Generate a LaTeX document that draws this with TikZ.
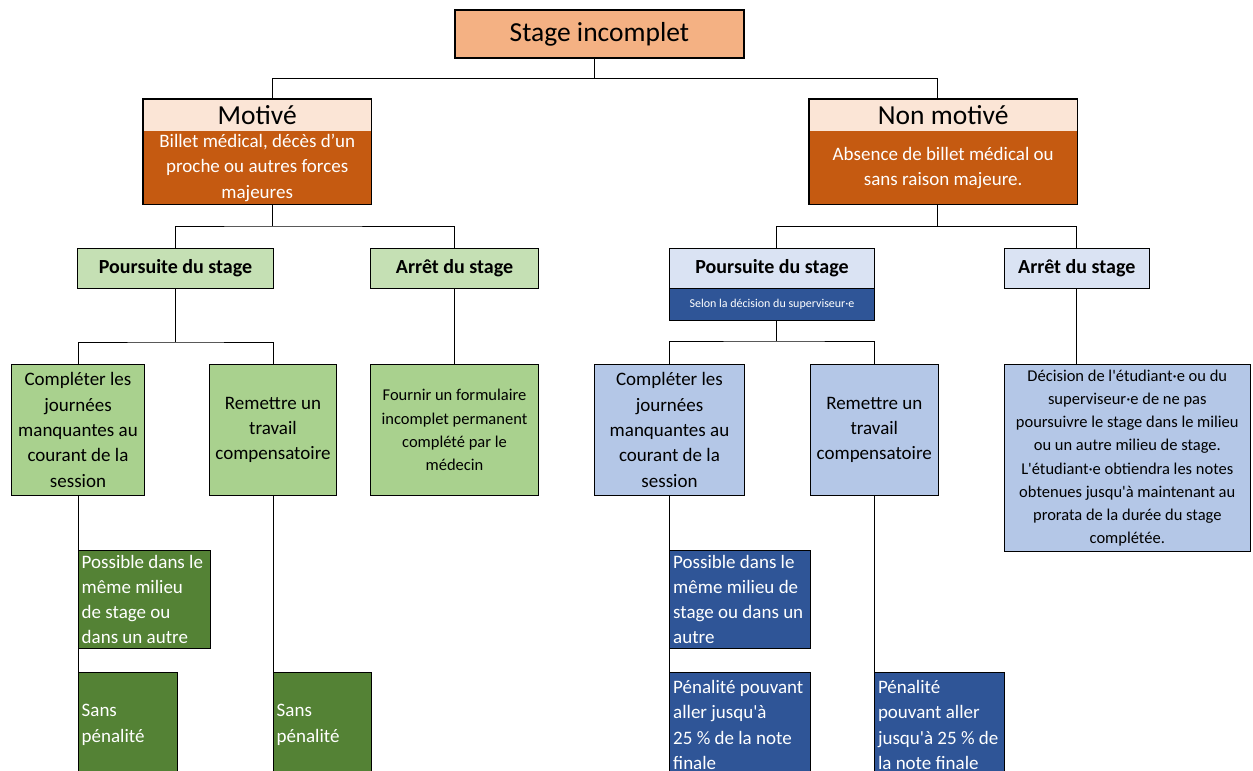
\documentclass[tikz,border=0pt]{standalone}
\usepackage{fontspec}
\setmainfont{Carlito}[Ligatures=TeXOff]
\usetikzlibrary{calc}
\definecolor{topc}{HTML}{F4B183}
\definecolor{hdrc}{HTML}{FBE5D6}
\definecolor{bodyc}{HTML}{C55A11}
\definecolor{lgreen}{HTML}{C5E0B4}
\definecolor{mgreen}{HTML}{A9D18E}
\definecolor{dgreen}{HTML}{548235}
\definecolor{lblue}{HTML}{DAE3F3}
\definecolor{mblue}{HTML}{B4C7E7}
\definecolor{dblue}{HTML}{2F5597}
\begin{document}
\begin{tikzpicture}[x=1pt,y=-1pt,
  box/.style={draw=black, line width=1pt, anchor=north west, inner sep=0pt, align=center, text=black},
  bigbox/.style={box, line width=1.8pt},
  plainbox/.style={draw=none, anchor=north west, inner sep=0pt, align=center},
  ftitle/.style={font=\fontsize{27.5}{30}\selectfont},
  fbold/.style={font=\fontsize{20}{24}\selectfont\bfseries},
  fnorm/.style={font=\fontsize{19}{25.3}\selectfont},
  fsmall/.style={font=\fontsize{16.5}{23.2}\selectfont},
  ftiny/.style={font=\fontsize{12}{14}\selectfont},
  dtext/.style={anchor=west, inner sep=0pt, align=left, text=white, fnorm},
  conn/.style={draw=black, line width=1pt}
]
\useasboundingbox (0,0) rectangle (1253,771);
\clip (0,0) rectangle (1253,771);
\coordinate (bot) at (0,790);

% ---- level 0
\node[bigbox, fill=topc, minimum width=289, minimum height=48, ftitle] (top) at (454,9) {Stage incomplet};

% ---- level 1
\node[plainbox, fill=hdrc, minimum width=228, minimum height=32, ftitle] (mot) at (143,99) {Motivé};
\node[plainbox, fill=bodyc, text=white, minimum width=228, minimum height=73, fnorm] (motb) at (143,131) {Billet médical, décès d’un\\proche ou autres forces\\majeures};
\draw[line width=1.8pt] (mot.north west) rectangle (motb.south east);

\node[plainbox, fill=hdrc, minimum width=268, minimum height=32, ftitle] (nm) at (809,99) {Non motivé};
\node[plainbox, fill=bodyc, text=white, minimum width=268, minimum height=73, fnorm] (nmb) at (809,131) {Absence de billet médical ou\\sans raison majeure.};
\draw[line width=1.8pt] (nm.north west) rectangle (nmb.south east);

% ---- level 2
\node[box, fill=lgreen, minimum width=196, minimum height=40, fbold] (pg) at (77,248) {Poursuite du stage};
\node[box, fill=lgreen, minimum width=168, minimum height=40, fbold] (ag) at (370,248) {Arrêt du stage};
\node[box, fill=lblue, minimum width=205, minimum height=40, fbold] (pb) at (669,248) {Poursuite du stage};
\node[box, fill=dblue, text=white, minimum width=205, minimum height=32, ftiny] (pbs) at (669,288) {Selon la décision du superviseur·e};
\node[box, fill=lblue, minimum width=145.5, minimum height=40, fbold] (ab) at (1003.5,248) {Arrêt du stage};

% ---- level 3
\node[box, fill=mgreen, minimum width=133, minimum height=131, fnorm] (cg) at (11,364) {Compléter les\\journées\\manquantes au\\courant de la\\session};
\node[box, fill=mgreen, minimum width=127, minimum height=131, fnorm] (rg) at (209,364) {Remettre un\\travail\\compensatoire};
\node[box, fill=mgreen, minimum width=168, minimum height=131, fsmall] (fg) at (370,364) {Fournir un formulaire\\incomplet permanent\\complété par le\\médecin};
\node[box, fill=mblue, minimum width=150, minimum height=131, fnorm] (cb) at (594,364) {Compléter les\\journées\\manquantes au\\courant de la\\session};
\node[box, fill=mblue, minimum width=128.4, minimum height=131, fnorm] (rb) at (809.6,364) {Remettre un\\travail\\compensatoire};
\node[box, fill=mblue, minimum width=246.4, minimum height=187, fsmall] (dec) at (1003.6,364) {Décision de l'étudiant·e ou du\\superviseur·e de ne pas\\poursuivre le stage dans le milieu\\ou un autre milieu de stage.\\L'étudiant·e obtiendra les notes\\obtenues jusqu'à maintenant au\\prorata de la durée du stage\\complétée.};

% ---- level 4
\node[box, fill=dgreen, minimum width=132.5, minimum height=98] (pgd) at (77.5,550) {};
\node[dtext] at ([xshift=4]pgd.west) {Possible dans le\\même milieu\\de stage ou\\dans un autre};
\node[box, fill=dgreen, minimum width=99.5, minimum height=105] (sg1) at (77.5,672) {};
\node[dtext] at ([xshift=4]sg1.west) {Sans\\pénalité};
\node[box, fill=dgreen, minimum width=98.5, minimum height=105] (sg2) at (272.5,672) {};
\node[dtext] at ([xshift=4]sg2.west) {Sans\\pénalité};

\node[box, fill=dblue, minimum width=141, minimum height=98] (pbd) at (669,550) {};
\node[dtext] at ([xshift=4]pbd.west) {Possible dans le\\même milieu de\\stage ou dans un\\autre};
\node[box, fill=dblue, minimum width=141, minimum height=105] (pen1) at (669,672) {};
\node[dtext] at ([xshift=4]pen1.west) {Pénalité pouvant\\aller jusqu'à\\25 \% de la note\\finale};
\node[box, fill=dblue, minimum width=130, minimum height=105] (pen2) at (873.8,672) {};
\node[dtext] at ([xshift=4]pen2.west) {Pénalité\\pouvant aller\\jusqu'à 25 \% de\\la note finale};

% ---- connectors
\coordinate (j0) at (594,78);
\coordinate (jml) at (272,78);
\coordinate (jmr) at (937.5,78);
\draw[conn] (top.south -| j0) -- (j0);
\draw[conn] (jml |- mot.north) -- (jml) -- (jmr) -- (jmr |- nm.north);

\coordinate (ja) at (272,226);
\draw[conn] (motb.south -| ja) -- (ja);
\draw[conn] (pg.north) |- (ja) -| (ag.north);
\draw[conn] (pg.south) -- ++(0,53) coordinate (jp);
\draw[conn] (cg.north) |- (jp) -| (rg.north);
\draw[conn] (ag.south) -- (fg.north);
\draw[conn] (cg.south) -- (cg.south |- bot);
\draw[conn] (rg.south) -- (rg.south |- sg2.north);

\coordinate (jb) at (937.5,226);
\coordinate (jbl) at (776,226);
\draw[conn] (nmb.south -| jb) -- (jb);
\draw[conn] (jbl |- pb.north) -- (jbl) -| (ab.north);
\draw[conn] (pbs.south -| jbl) -- ++(0,20) coordinate (jq);
\draw[conn] (cb.north) |- (jq) -| (rb.north);
\draw[conn] (ab.south) -- (ab.south |- dec.north);
\draw[conn] (cb.south) -- (cb.south |- bot);
\draw[conn] (rb.south) -- (rb.south |- pen2.north);
\end{tikzpicture}
\end{document}
